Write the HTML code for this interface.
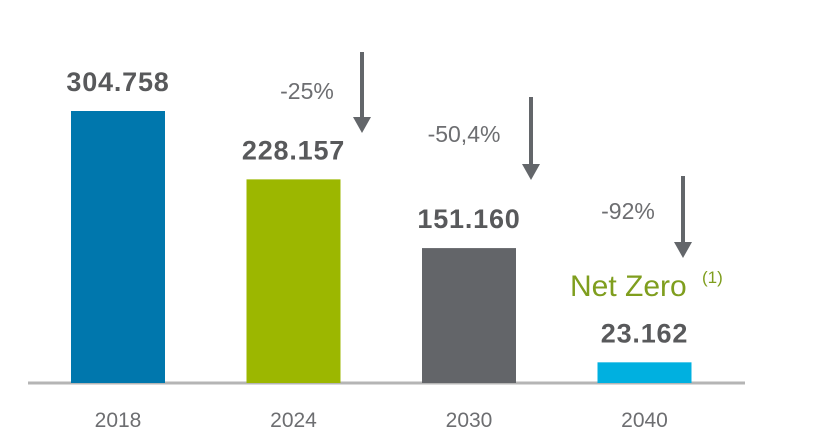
<!DOCTYPE html>
<html><head><meta charset="utf-8"><style>
html,body{margin:0;padding:0;background:#fff;}
svg{display:block;font-family:"Liberation Sans","DejaVu Sans",sans-serif;}
</style></head><body>
<svg id="chart" width="825" height="448" viewBox="0 0 825 448"></svg>
<script>
const categories=["2018","2024","2030","2040"];
const values=[304758,228157,151160,23162];
const valueLabels=["304.758","228.157","151.160","23.162"];
const colors=["#0077ad","#9cb700","#636569","#00b0e0"];
const reductions=["-25%","-50,4%","-92%"];
const NS="http://www.w3.org/2000/svg";
const svg=document.getElementById('chart');
const baseY=383, plotH=272, maxV=304758;
const y=v=>baseY-v/maxV*plotH;
const xc=i=>118+i*175.5;
const bw=94;
function mk(t,a,p){const e=document.createElementNS(NS,t);for(const k in a)e.setAttribute(k,a[k]);(p||svg).appendChild(e);return e;}
const axis=mk('line',{x1:28,x2:745,y1:baseY,y2:baseY,stroke:'#b5b5b5','stroke-width':3});


categories.forEach((c,i)=>{
  const r=mk('rect',{x:xc(i)-bw/2,y:y(values[i]),width:bw,height:baseY-y(values[i]),fill:colors[i]});
  
  
  const vl=mk('text',{x:xc(i),y:y(values[i])-20,'text-anchor':'middle','font-size':27,'font-weight':'bold',fill:'#58595b','letter-spacing':0.8});
  vl.textContent=valueLabels[i];
  
  
  const xl=mk('text',{x:xc(i),y:427,'text-anchor':'middle','font-size':21,fill:'#6d6e71'});
  xl.textContent=c;
  
  
});
const arrowX=[362,531,683], arrowTop=[52,97,176], arrowBot=[133,180,258], pctX=[307,464,628], pctY=[99,142,219];
reductions.forEach((p,k)=>{
  const g=mk('g',{});
  
  
  mk('line',{x1:arrowX[k],x2:arrowX[k],y1:arrowTop[k],y2:arrowBot[k]-14,stroke:'#63666a','stroke-width':4},g);
  mk('polygon',{points:`${arrowX[k]-9},${arrowBot[k]-16} ${arrowX[k]+9},${arrowBot[k]-16} ${arrowX[k]},${arrowBot[k]}`,fill:'#63666a'},g);
  const t=mk('text',{x:pctX[k],y:pctY[k],'text-anchor':'middle','font-size':23,fill:'#6d6e71'});
  t.textContent=p;
  
  
});
const nz=mk('text',{x:570,y:296,'font-size':30,fill:'#7f9e1e'});
nz.textContent='Net Zero';


const sup=mk('text',{x:702,y:283,'font-size':17,fill:'#7f9e1e'});
sup.textContent='(1)';


</script>
</body></html>
